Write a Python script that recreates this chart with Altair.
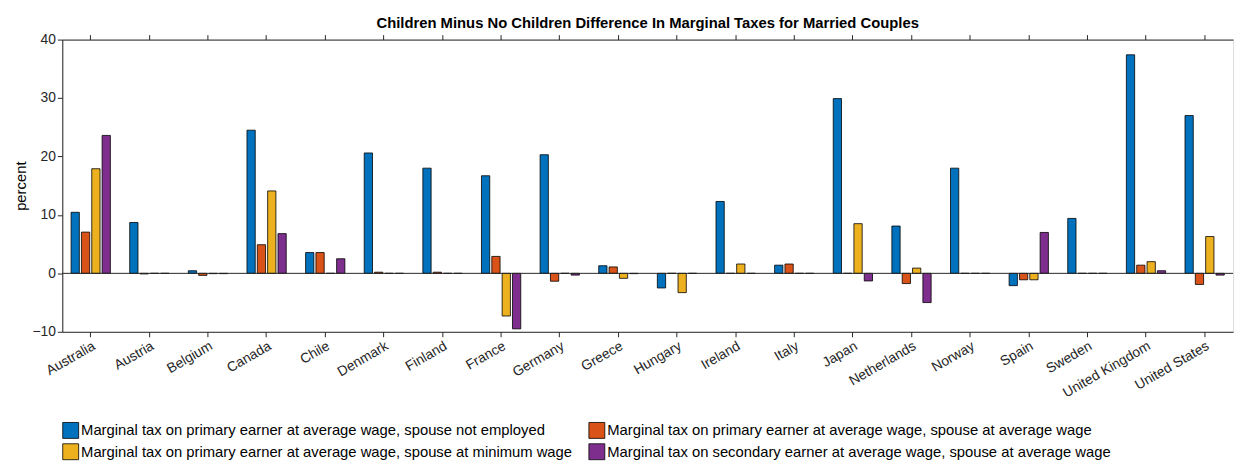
import pandas as pd
import altair as alt

countries = ['Australia', 'Austria', 'Belgium', 'Canada', 'Chile', 'Denmark', 'Finland',
             'France', 'Germany', 'Greece', 'Hungary', 'Ireland', 'Italy', 'Japan',
             'Netherlands', 'Norway', 'Spain', 'Sweden', 'United Kingdom', 'United States']

series = ['Marginal tax on primary earner at average wage, spouse not employed',
          'Marginal tax on primary earner at average wage, spouse at average wage',
          'Marginal tax on primary earner at average wage, spouse at minimum wage',
          'Marginal tax on secondary earner at average wage, spouse at average wage']

primary_not_employed = [10.45, 8.7, 0.45, 24.5, 3.56, 20.6, 18.0, 16.7, 20.3, 1.3,
                        -2.5, 12.3, 1.4, 29.9, 8.1, 18.0, -2.1, 9.4, 37.4, 27.0]
primary_avg_spouse_avg = [7.06, -0.1, -0.35, 4.9, 3.56, 0.2, 0.2, 2.9, -1.35, 1.1,
                          0.0, 0.0, 1.6, 0.0, -1.75, 0.0, -1.1, 0.0, 1.4, -1.9]
primary_avg_spouse_min = [17.9, 0.0, -0.05, 14.1, 0.0, 0.0, 0.0, -7.3, 0.0, -0.85,
                          -3.3, 1.6, 0.0, 8.5, 0.9, 0.0, -1.1, 0.0, 2.0, 6.3]
secondary_avg_spouse_avg = [23.6, 0.0, -0.05, 6.8, 2.5, 0.0, 0.0, -9.5, -0.3, -0.05,
                            0.0, 0.0, 0.0, -1.3, -5.0, 0.0, 7.0, 0.0, 0.45, -0.3]

colors = ['#0072BD', '#D95319', '#EDB120', '#7E2F8E']

rows = []
for s, vals in zip(series, [primary_not_employed, primary_avg_spouse_avg,
                            primary_avg_spouse_min, secondary_avg_spouse_avg]):
    for c, v in zip(countries, vals):
        rows.append({'country': c, 'series': s, 'value': v})
data = pd.DataFrame(rows)

x_scale = alt.Scale(domain=countries, paddingInner=0.33, paddingOuter=0.15)
y_scale = alt.Scale(domain=[-10, 40], nice=False)

bars = alt.Chart(data).mark_bar(stroke='black', strokeWidth=0.8).encode(
    x=alt.X('country:N', scale=x_scale, sort=countries, title=None,
            axis=alt.Axis(labelAngle=-30, labelAlign='right', labelBaseline='top',
                          labelFontSize=14, tickSize=5, domainColor='#262626',
                          tickColor='#262626', labelColor='#262626', grid=False)),
    xOffset=alt.XOffset('series:N', sort=series, scale=alt.Scale(paddingInner=0.2)),
    y=alt.Y('value:Q', scale=y_scale, title='percent',
            axis=alt.Axis(values=[-10, 0, 10, 20, 30, 40], tickSize=5, labelFontSize=14,
                          titleFontSize=15, titleFontWeight='normal', grid=False,
                          domainColor='#262626', tickColor='#262626', labelColor='#262626')),
    color=alt.Color('series:N', sort=series, scale=alt.Scale(domain=series, range=colors),
                    legend=alt.Legend(orient='bottom', columns=2, title=None, symbolType='square',
                                      symbolSize=260, symbolStrokeColor='black', symbolStrokeWidth=0.8,
                                      labelFontSize=15, labelLimit=700, columnPadding=14,
                                      rowPadding=1, offset=22, labelColor='black', labelOffset=2))
)

zero = alt.Chart(pd.DataFrame({'value': [0]})).mark_rule(color='#262626', strokeWidth=1).encode(
    y=alt.Y('value:Q', scale=y_scale)
)

top_axis = alt.Chart(pd.DataFrame({'country': countries})).mark_point(opacity=0).encode(
    x=alt.X('country:N', scale=x_scale, sort=countries, title=None,
            axis=alt.Axis(orient='top', labels=False, tickSize=5, domainColor='#262626',
                          tickColor='#262626'))
)

chart = alt.layer(bars, zero, top_axis).resolve_axis(x='independent').properties(
    title=alt.Title('Children Minus No Children Difference In Marginal Taxes for Married Couples',
                    fontSize=15, fontWeight='bold', offset=2),
    width=1186,
    height=296
).configure_view(stroke='#262626').configure(font='Liberation Sans')

chart.save('out.html', embed_options={'renderer': 'svg', 'actions': False})
